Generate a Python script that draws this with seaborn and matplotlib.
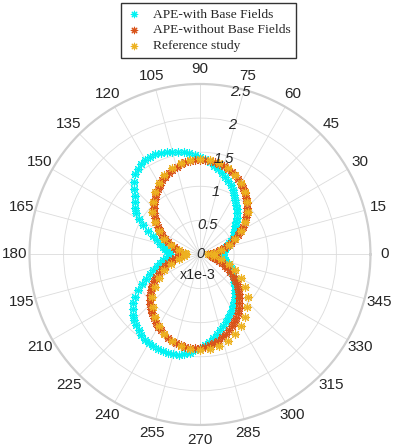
import numpy as np
import pandas as pd
import matplotlib
matplotlib.use("Agg")
import matplotlib.pyplot as plt
import seaborn as sns

# angles (deg) for the two simulated patterns and for the reference study
angles_sim = list(range(0, 360, 3))
angles_ref = list(range(0, 360, 6))

# radius in units of 1e-3
r_with_base = [
    0.30, 0.32, 0.34, 0.36, 0.38, 0.40, 0.43, 0.46, 0.50, 0.54,
    0.57, 0.60, 0.63, 0.67, 0.71, 0.76, 0.81, 0.86, 0.90, 0.95,
    1.01, 1.06, 1.11, 1.15, 1.20, 1.24, 1.28, 1.32, 1.36, 1.40,
    1.43, 1.46, 1.49, 1.52, 1.54, 1.56, 1.58, 1.60, 1.61, 1.61,
    1.60, 1.58, 1.55, 1.51, 1.44, 1.36, 1.29, 1.23, 1.17, 1.11,
    1.03, 0.94, 0.84, 0.74, 0.67, 0.61, 0.56, 0.52, 0.48, 0.46,
    0.44, 0.46, 0.50, 0.55, 0.60, 0.66, 0.72, 0.79, 0.87, 0.96,
    1.05, 1.14, 1.21, 1.27, 1.32, 1.36, 1.40, 1.43, 1.46, 1.49,
    1.50, 1.51, 1.52, 1.52, 1.52, 1.51, 1.50, 1.48, 1.45, 1.41,
    1.37, 1.33, 1.29, 1.24, 1.19, 1.14, 1.10, 1.06, 1.02, 0.98,
    0.94, 0.90, 0.86, 0.81, 0.77, 0.73, 0.69, 0.65, 0.61, 0.58,
    0.55, 0.52, 0.49, 0.46, 0.43, 0.40, 0.37, 0.35, 0.33, 0.31,
]
r_without_base = [
    0.15, 0.17, 0.20, 0.24, 0.30, 0.36, 0.42, 0.48, 0.55, 0.62,
    0.68, 0.75, 0.81, 0.87, 0.92, 0.97, 1.02, 1.07, 1.12, 1.16,
    1.20, 1.24, 1.27, 1.30, 1.32, 1.34, 1.36, 1.37, 1.38, 1.39,
    1.39, 1.39, 1.38, 1.37, 1.35, 1.33, 1.31, 1.28, 1.25, 1.22,
    1.18, 1.14, 1.10, 1.05, 1.00, 0.96, 0.91, 0.85, 0.80, 0.74,
    0.68, 0.62, 0.56, 0.50, 0.45, 0.40, 0.36, 0.32, 0.29, 0.27,
    0.25, 0.28, 0.32, 0.37, 0.42, 0.48, 0.54, 0.60, 0.66, 0.72,
    0.78, 0.84, 0.89, 0.94, 0.99, 1.03, 1.07, 1.11, 1.15, 1.19,
    1.22, 1.25, 1.28, 1.31, 1.33, 1.35, 1.36, 1.37, 1.38, 1.38,
    1.37, 1.36, 1.34, 1.32, 1.29, 1.26, 1.22, 1.19, 1.15, 1.11,
    1.07, 1.02, 0.97, 0.92, 0.86, 0.81, 0.75, 0.69, 0.63, 0.57,
    0.51, 0.45, 0.40, 0.35, 0.30, 0.26, 0.22, 0.19, 0.17, 0.16,
]
r_reference = [
    0.12, 0.20, 0.31, 0.44, 0.57, 0.70, 0.82, 0.94, 1.04, 1.13,
    1.21, 1.28, 1.33, 1.37, 1.39, 1.40, 1.39, 1.37, 1.33, 1.28,
    1.21, 1.13, 1.04, 0.94, 0.82, 0.70, 0.57, 0.44, 0.31, 0.22,
    0.20, 0.24, 0.31, 0.44, 0.57, 0.70, 0.82, 0.94, 1.04, 1.13,
    1.21, 1.28, 1.33, 1.37, 1.39, 1.40, 1.39, 1.37, 1.33, 1.28,
    1.21, 1.13, 1.04, 0.94, 0.82, 0.70, 0.57, 0.44, 0.31, 0.20,
]

series_labels = ["APE-with Base Fields", "APE-without Base Fields", "Reference study"]
series_colors = ["#00F2F2", "#D95319", "#EDB120"]

r_ticks = [0, 0.5, 1, 1.5, 2, 2.5]
r_tick_labels = ["0", "0.5", "1", "1.5", "2", "2.5"]
theta_ticks = list(range(0, 360, 15))

sns.set_style("white")
plt.rcParams["font.family"] = ["Liberation Sans", "DejaVu Sans"]

fig = plt.figure(figsize=(3.96, 4.47), dpi=100)
ax = fig.add_axes([0.0745, 0.0492, 0.861, 0.763], projection="polar")

asterisk = (8, 2, 0)
data = [(angles_sim, r_with_base), (angles_sim, r_without_base), (angles_ref, r_reference)]
for (ang, r), color, label in zip(data, series_colors, series_labels):
    df = pd.DataFrame({"theta": np.deg2rad(ang), "r": r})
    sns.scatterplot(data=df, x="theta", y="r", ax=ax, marker=asterisk,
                    color=color, s=34, linewidth=0.8, label=label, legend=False)

ax.set_xlabel("")
ax.set_ylabel("")
ax.set_ylim(0, 2.5)
ax.set_yticks(r_ticks)
ax.set_yticklabels([])
ax.set_thetagrids(theta_ticks, labels=[str(t) for t in theta_ticks], fontsize=11)
ax.tick_params(axis="x", pad=0)
ax.grid(color="#dcdcdc", linewidth=0.6)
ax.set_axisbelow(True)
ax.spines["polar"].set_edgecolor("#cfcfcf")
ax.spines["polar"].set_linewidth(1.6)

for v, lab in zip(r_ticks, r_tick_labels):
    ax.text(np.deg2rad(76), max(v - 0.05, 0), lab, fontsize=10.5, style="italic",
            ha="center", va="center")
ax.text(0.494, 0.44, "x1e-3", transform=ax.transAxes, fontsize=10.3,
        ha="center", va="center")

handles = ax.collections[:3]
leg = fig.legend(handles, series_labels, loc="upper center", bbox_to_anchor=(0.526, 1.0),
                 prop={"family": "Liberation Serif", "size": 9.7}, frameon=True,
                 fancybox=False, edgecolor="#333333", framealpha=1, markerscale=0.8,
                 handlelength=1.2, handletextpad=0.8, borderpad=0.4, labelspacing=0.25,
                 borderaxespad=0.2)
leg.get_frame().set_linewidth(1.0)

fig.savefig("out.png", dpi=100)
